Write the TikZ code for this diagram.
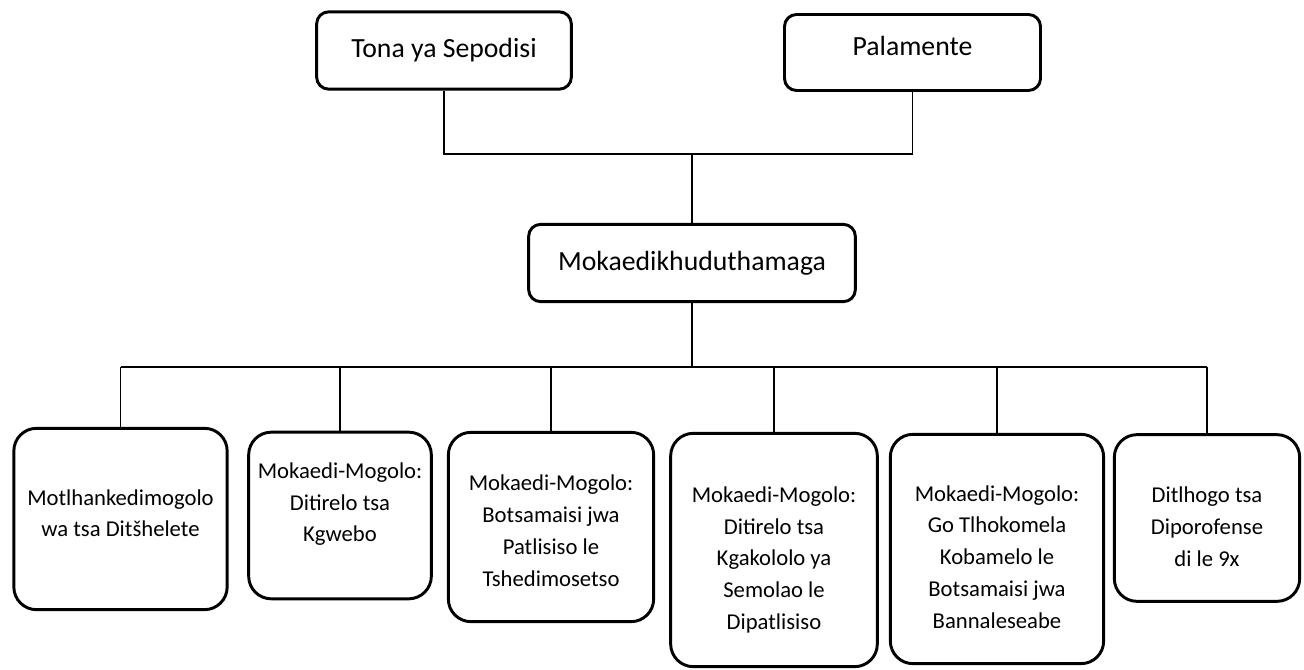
\documentclass[tikz,border=0pt]{standalone}
\usepackage{fontspec}
\setmainfont{Carlito}
% struts that push a box's text down (taller first line) or up (deeper last line)
\newcommand\padtop[1]{\rule{0pt}{#1}}
\newcommand\padbottom[1]{\rule[-#1]{0pt}{0pt}}
\begin{document}
\begin{tikzpicture}[x=0.75pt,y=-0.75pt,
    toprole/.style={draw,line width=2.2pt,rounded corners=9pt,inner sep=0pt,
      font=\fontsize{20.8}{24}\selectfont},
    unit/.style={draw,line width=2.2pt,rounded corners=17pt,inner sep=0pt,align=center,
      font=\fontsize{17}{23.8}\selectfont}]
  \useasboundingbox (0,0) rectangle (1304,670);
  \draw
    (444,50.5) node[toprole,minimum width=191pt,minimum height=58pt] (tona){Tona ya Sepodisi}
    (912.5,52.5) node[toprole,minimum width=192pt,minimum height=57pt] (palamente){Palamente\padbottom{10.5pt}}
    (692,263) node[toprole,minimum width=245pt,minimum height=58pt] (mkd){Mokaedikhuduthamaga}
    (120.5,519) node[unit,minimum width=160pt,minimum height=136pt] (u1){Motlhankedimogolo\\wa tsa Ditšhelete\padbottom{9pt}}
    (340,515.5) node[unit,minimum width=137pt,minimum height=125pt] (u2){Mokaedi-Mogolo:\\Ditirelo tsa\\Kgwebo\padbottom{20pt}}
    (551,527) node[unit,minimum width=154pt,minimum height=142pt] (u3){\padtop{17.5pt}Mokaedi-Mogolo:\\Botsamaisi jwa\\Patlisiso le\\Tshedimosetso}
    (774,550) node[unit,minimum width=155pt,minimum height=175pt] (u4){\padtop{26.5pt}Mokaedi-Mogolo:\\Ditirelo tsa\\Kgakololo ya\\Semolao le\\Dipatlisiso}
    (997,549) node[unit,minimum width=160pt,minimum height=172pt] (u5){\padtop{23.5pt}Mokaedi-Mogolo:\\Go Tlhokomela\\Kobamelo le\\Botsamaisi jwa\\Bannaleseabe}
    (1207,518) node[unit,minimum width=139pt,minimum height=125pt] (u6){\padtop{25pt}Ditlhogo tsa\\Diporofense\\di le 9x};
  \coordinate (join) at (692,154);
  \coordinate (bus) at (0,367);
  \begin{scope}[line width=1.3pt]
    \draw (tona.south) |- (join) -| (palamente.south);
    \draw (join) to (mkd.north);
    \draw (mkd.south) to (mkd.south |- bus);
    \draw (u1.north |- bus) to (u6.north |- bus);
    \foreach \i in {1,...,6}
      \draw (u\i.north |- bus) to (u\i.north);
  \end{scope}
\end{tikzpicture}
\end{document}
